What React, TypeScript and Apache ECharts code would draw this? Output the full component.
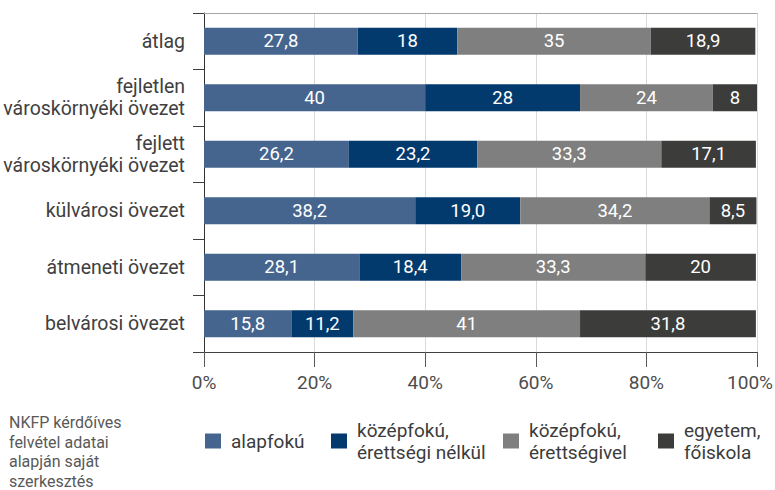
import React, { useEffect, useRef } from "react";
import * as echarts from "echarts";

const categories = [
  "átlag",
  "fejletlen\nvároskörnyéki övezet",
  "fejlett\nvároskörnyéki övezet",
  "külvárosi övezet",
  "átmeneti övezet",
  "belvárosi övezet",
];

const seriesNames = [
  "alapfokú",
  "középfokú,\nérettségi nélkül",
  "középfokú,\nérettségivel",
  "egyetem,\nfőiskola",
];

// values as printed in the chart (Hungarian decimal comma)
const alapfoku = ["27,8", "40", "26,2", "38,2", "28,1", "15,8"];
const kozepfokuNelkul = ["18", "28", "23,2", "19,0", "18,4", "11,2"];
const kozepfokuVel = ["35", "24", "33,3", "34,2", "33,3", "41"];
const egyetem = ["18,9", "8", "17,1", "8,5", "20", "31,8"];

const colors = ["#45658f", "#023a6e", "#7f7f7f", "#3c3c3b"];

const xMin = 0;
const xMax = 100;
const xInterval = 20;

const sourceText = "NKFP kérdőíves\nfelvétel adatai\nalapján saját\nszerkesztés";

const FONT = "Roboto";

function toNum(s: string): number {
  return parseFloat(s.replace(",", "."));
}

export default function App() {
  const ref = useRef<HTMLDivElement>(null);

  useEffect(() => {
    if (!ref.current) return;
    const chart = echarts.init(ref.current, undefined, { renderer: "svg" });

    const valueSets = [alapfoku, kozepfokuNelkul, kozepfokuVel, egyetem];

    const series = valueSets.map((vals, i) => ({
      name: seriesNames[i],
      type: "bar",
      stack: "total",
      barWidth: 27,
      itemStyle: { color: colors[i] },
      label: {
        show: true,
        position: "inside",
        color: "#ffffff",
        fontFamily: FONT,
        fontSize: 18.5,
        formatter: (p: any) => vals[p.dataIndex],
      },
      emphasis: { disabled: true },
      data: vals.map((v) => toNum(v)),
    }));

    const legendLefts = [205, 331, 503, 658];
    const legends = seriesNames.map((name, i) => {
      const twoLine = name.includes("\n");
      return {
        data: [name],
        left: legendLefts[i],
        top: twoLine ? 408 : 430,
        padding: 0,
        orient: "horizontal",
        icon: "rect",
        itemWidth: 16,
        itemHeight: 15,
        selectedMode: false,
        textStyle: {
          fontFamily: FONT,
          fontSize: 19,
          color: "#3c3c3c",
          lineHeight: 22,
          padding: twoLine ? [22, 0, 0, 5] : [0, 0, 0, 5],
        },
      };
    });

    chart.setOption({
      animation: false,
      textStyle: { fontFamily: FONT },
      title: {
        text: sourceText,
        left: 9,
        top: 413,
        padding: 0,
        textStyle: {
          fontFamily: FONT,
          fontSize: 16,
          fontWeight: "normal",
          color: "#595959",
          lineHeight: 19.5,
        },
      },
      legend: legends,
      grid: {
        left: 204,
        width: 553,
        top: 13,
        height: 339,
        containLabel: false,
        outerBoundsMode: "none",
      },
      xAxis: [
        {
          type: "value",
          min: xMin,
          max: xMax,
          interval: xInterval,
          position: "bottom",
          axisLine: { show: true, lineStyle: { color: "#404040", width: 1 } },
          axisTick: { show: true, length: 15, lineStyle: { color: "#595959" } },
          axisLabel: {
            formatter: (v: number) => (v === xMax ? "{m|" + v + "%}" : v + "%"),
            fontFamily: FONT,
            fontSize: 19,
            color: "#4d4d4d",
            margin: 21,
            rich: {
              m: {
                fontFamily: FONT,
                fontSize: 19,
                color: "#4d4d4d",
                padding: [0, 14, 0, 0],
              },
            },
          },
          splitLine: { show: true, lineStyle: { color: "#d9d9d9", width: 1 } },
        },
        {
          type: "value",
          min: xMin,
          max: xMax,
          interval: xInterval,
          position: "top",
          axisLine: { show: true, lineStyle: { color: "#a6a6a6", width: 1 } },
          axisTick: { show: false },
          axisLabel: { show: false },
          splitLine: { show: false },
        },
      ],
      yAxis: {
        type: "category",
        inverse: true,
        data: categories,
        axisLine: { show: true, lineStyle: { color: "#333333", width: 1 } },
        axisTick: { show: true, length: 11, lineStyle: { color: "#404040" } },
        axisLabel: {
          fontFamily: FONT,
          fontSize: 19.5,
          lineHeight: 22,
          color: "#404040",
          margin: 19,
        },
      },
      series,
    });

    return () => chart.dispose();
  }, []);

  return (
    <div
      ref={ref}
      style={{ position: "fixed", left: 0, top: 0, width: 775, height: 490, background: "#ffffff" }}
    />
  );
}
